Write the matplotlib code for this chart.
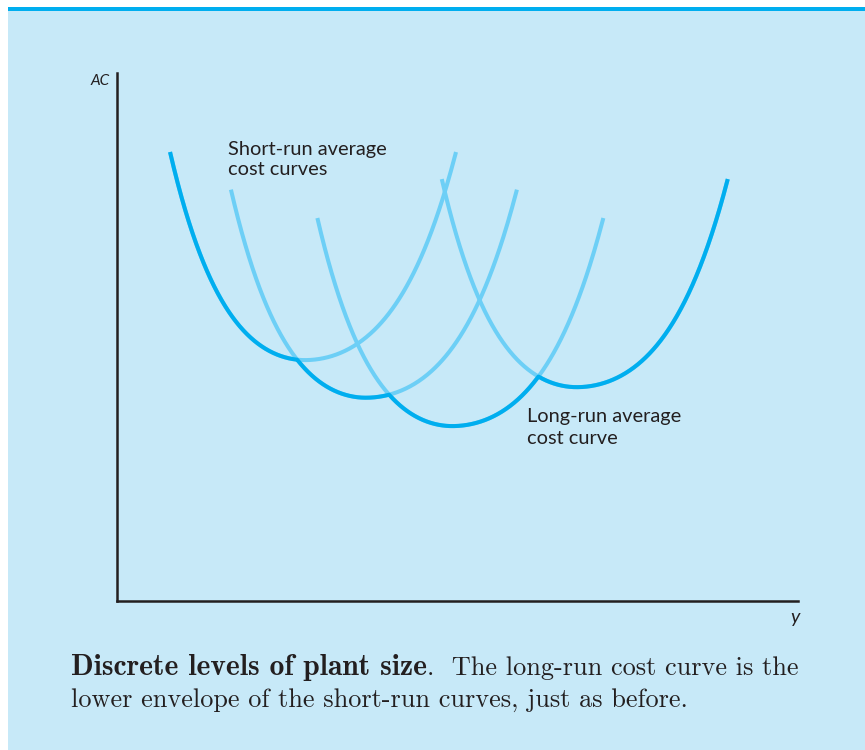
import numpy as np
import matplotlib
matplotlib.use("Agg")
import matplotlib.pyplot as plt
from matplotlib.patches import Rectangle

# Plant sizes: output level where each plant's average cost bottoms out, and that minimum cost
plant_min_output = [2.87, 3.80, 5.12, 7.02]
plant_min_cost = [3.65, 3.08, 2.65, 3.24]

# Common short-run AC shape: cost rise = q2*u^2 + q4*u^4, u = distance from the minimum
shape_q2 = 0.448
shape_q4 = 0.0695
left_reach = 2.06      # output range drawn to the left of each minimum
right_stretch = 1.12   # curves rise more slowly above the efficient scale

BG = "#c7e9f8"
DARK = "#00aeef"
LIGHT = "#6dcff6"
INK = "#231f20"
LABEL_FONT = ["Lato", "DejaVu Sans"]

W, H = 865, 750
fig = plt.figure(figsize=(W / 100, H / 100), dpi=100)
fig.patch.set_facecolor("white")

# panel background and top rule
fig.add_artist(Rectangle((8 / W, 0), 1 - 8 / W, (H - 7) / H, transform=fig.transFigure,
                         facecolor=BG, edgecolor="none", zorder=-10))
fig.add_artist(Rectangle((8 / W, (H - 11) / H), 1 - 8 / W, 4 / H, transform=fig.transFigure,
                         facecolor=DARK, edgecolor="none", zorder=-9))

ax = fig.add_axes([117 / W, (H - 601) / H, 681 / W, 528 / H])
ax.set_facecolor("none")
ax.set_xlim(0, 10.4)
ax.set_ylim(0, 8)
for side in ("top", "right"):
    ax.spines[side].set_visible(False)
for side in ("left", "bottom"):
    ax.spines[side].set_linewidth(1.8)
    ax.spines[side].set_color(INK)
ax.set_xticks([])
ax.set_yticks([])


def short_run_ac(y, y0, c0):
    d = y - y0
    u = np.where(d < 0, d, d / right_stretch)
    return c0 + shape_q2 * u ** 2 + shape_q4 * u ** 4


starts = [m - left_reach for m in plant_min_output]
ends = [m + left_reach * right_stretch for m in plant_min_output]

grid = np.linspace(min(starts), max(ends), 2000)
stack = []
for y0, c0, a, b in zip(plant_min_output, plant_min_cost, starts, ends):
    yy = np.linspace(a, b, 400)
    ax.plot(yy, short_run_ac(yy, y0, c0), color=LIGHT, lw=2.9,
            solid_capstyle="butt", zorder=2)
    vals = short_run_ac(grid, y0, c0)
    vals[(grid < a) | (grid > b)] = np.nan
    stack.append(vals)

envelope = np.nanmin(np.vstack(stack), axis=0)
ax.plot(grid, envelope, color=DARK, lw=2.9, solid_capstyle="butt", zorder=3)

# curve labels
lab = dict(fontsize=14.4, color=INK, family=LABEL_FONT, va="baseline", ha="left")
ax.text(1.695, 6.76, "Short-run average", **lab)
ax.text(1.695, 6.455, "cost curves", **lab)
ax.text(6.26, 2.71, "Long-run average", **lab)
ax.text(6.26, 2.38, "cost curve", **lab)

# axis names
ax.text(-0.12, 7.82, "AC", fontsize=11, style="italic", color=INK, family=LABEL_FONT,
        ha="right", va="baseline")
ax.text(10.35, -0.333, "y", fontsize=14, style="italic", color=INK, family=LABEL_FONT,
        ha="center", va="baseline", clip_on=False)

# caption: bold lead-in followed by regular text
x0 = 71 / W
y1 = (H - 675) / H
y2 = (H - 707) / H
cap_size = 18.9
bold = fig.text(x0, y1, "Discrete levels of plant size", fontsize=21.3, family="cmb10",
                color=INK, va="baseline", ha="left")
fig.canvas.draw()
bb = bold.get_window_extent(renderer=fig.canvas.get_renderer())
x_after = bb.x1 / W
fig.text(x_after, y1, ".  The long-run cost curve is the", fontsize=cap_size, family="cmr10",
         color=INK, va="baseline", ha="left")
fig.text(x0, y2, "lower envelope of the short-run curves, just as before.", fontsize=cap_size,
         family="cmr10", color=INK, va="baseline", ha="left")

fig.savefig("out.png", dpi=100, facecolor=fig.get_facecolor())
